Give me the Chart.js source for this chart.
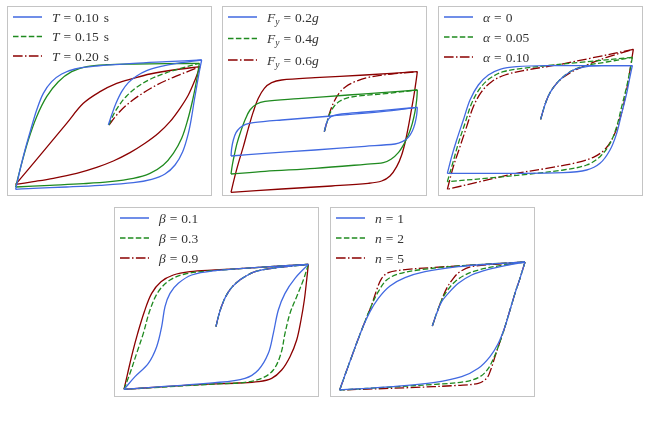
<!DOCTYPE html>
<html>
<head>
<meta charset="utf-8">
<script src="https://cdn.jsdelivr.net/npm/chart.js@4"></script>
<style>
  body { margin: 0; background: #fff; width: 650px; height: 421px; position: relative; overflow: hidden; }
  .panel { position: absolute; box-sizing: border-box; width: 205px; height: 190px; border: 1px solid #c4c4c4; }
  .panel canvas { display: block; }
</style>
</head>
<body>
<div class="panel" style="left:7px;top:6px"><canvas id="pT" width="203" height="188"></canvas></div>
<div class="panel" style="left:222px;top:6px"><canvas id="pF" width="203" height="188"></canvas></div>
<div class="panel" style="left:438px;top:6px"><canvas id="pA" width="203" height="188"></canvas></div>
<div class="panel" style="left:114px;top:207px"><canvas id="pB" width="203" height="188"></canvas></div>
<div class="panel" style="left:330px;top:207px"><canvas id="pN" width="203" height="188"></canvas></div>
<script>
// hysteresis loops: [displacement, restoring force] (arbitrary units)
// curves: Init = first loading from rest, Down = unloading branch, Up = reloading branch

// panel 1: period T
const periodLabels = ['0.10', '0.15', '0.20'];
const T010Init = [[-2,0],[8,30],[21,65],[38,100],[58,127],[83,147],[113,163],[153,175],[203,185],[278,195]];
const T010Down = [[278,195],[271,160],[263,115],[256,75],[248,25],[238,-25],[221,-80],[198,-120],[168,-147],[128,-163],[73,-173],[-27,-181],[-127,-186],[-227,-190],[-280,-193]];
const T010Up = [[-280,-193],[-267,-135],[-252,-75],[-235,-15],[-217,45],[-197,95],[-172,130],[-142,153],[-102,168],[-37,177],[73,185],[173,190],[278,195]];
const T015Init = [[0,0],[13,30],[31,60],[53,87],[83,113],[123,137],[173,157],[223,172],[271,185]];
const T015Down = [[271,185],[263,135],[251,75],[236,15],[218,-40],[193,-85],[163,-120],[123,-145],[73,-160],[3,-170],[-77,-176],[-177,-181],[-280,-186]];
const T015Up = [[-280,-186],[-262,-115],[-242,-45],[-217,25],[-187,85],[-152,130],[-112,160],[-67,175],[-7,181],[73,183],[173,184],[271,185]];
const T020Init = [[0,0],[23,30],[53,60],[93,90],[143,120],[193,143],[243,163],[273,175]];
const T020Down = [[273,175],[258,135],[238,90],[213,50],[183,10],[148,-25],[108,-55],[63,-83],[13,-108],[-37,-127],[-97,-145],[-167,-160],[-227,-170],[-280,-178]];
const T020Up = [[-280,-178],[-227,-115],[-177,-55],[-127,5],[-77,65],[-27,100],[23,125],[73,140],[123,153],[193,165],[273,175]];

// panel 2: yield strength Fy
const yieldLabels = ['0.2', '0.4', '0.6'];
const Fy02Init = [[0,0],[4,17],[9,32],[16,42],[27,48],[52,53],[122,59],[202,66],[279,73]];
const Fy02Down = [[279,73],[277,50],[272,25],[264,2],[252,-17],[234,-30],[212,-37],[122,-44],[-28,-55],[-178,-65],[-280,-73]];
const Fy02Up = [[-280,-73],[-278,-50],[-273,-25],[-265,-3],[-253,12],[-236,22],[-213,27],[-128,35],[22,47],[172,60],[279,73]];
const Fy04Init = [[0,0],[7,25],[17,55],[30,77],[47,92],[72,102],[112,108],[192,115],[279,125]];
const Fy04Down = [[279,125],[277,95],[272,60],[264,25],[254,-5],[240,-35],[222,-63],[200,-83],[177,-93],[122,-98],[-28,-110],[-178,-119],[-280,-127]];
const Fy04Up = [[-280,-127],[-276,-100],[-270,-70],[-262,-35],[-251,0],[-238,35],[-223,65],[-203,83],[-178,91],[-78,99],[72,110],[172,117],[279,125]];
const Fy06Init = [[0,0],[8,30],[17,60],[29,90],[44,115],[64,135],[92,150],[132,163],[202,173],[279,180]];
const Fy06Down = [[279,180],[275,150],[269,110],[262,70],[254,25],[244,-25],[232,-70],[217,-105],[197,-133],[172,-148],[132,-155],[22,-163],[-128,-172],[-280,-182]];
const Fy06Up = [[-280,-182],[-270,-140],[-258,-95],[-243,-45],[-228,10],[-213,60],[-198,100],[-180,130],[-158,147],[-128,155],[-28,162],[122,170],[279,180]];

// panel 3: post-yield stiffness ratio alpha
const alphaLabels = ['0', '0.05', '0.10'];
const A000Init = [[2,0],[10,28],[20,58],[32,83],[50,108],[70,128],[100,148],[140,158],[190,161],[277,161]];
const A000Down = [[277,161],[270,128],[260,78],[245,18],[230,-42],[210,-92],[180,-132],[140,-152],[70,-160],[-100,-162],[-278,-162]];
const A000Up = [[-278,-162],[-265,-112],[-250,-62],[-230,-2],[-210,58],[-185,103],[-155,133],[-120,150],[-70,158],[20,161],[277,161]];
const A005Init = [[2,0],[10,28],[20,58],[32,83],[50,108],[70,128],[100,148],[140,162],[200,172],[277,186]];
const A005Down = [[277,186],[270,148],[260,98],[245,38],[230,-22],[210,-72],[180,-112],[140,-137],[70,-152],[-30,-164],[-130,-174],[-278,-187]];
const A005Up = [[-278,-187],[-262,-132],[-245,-72],[-225,-12],[-205,48],[-180,93],[-150,123],[-110,143],[-50,153],[20,161],[120,171],[277,186]];
const A010Init = [[2,0],[10,28],[20,58],[32,83],[50,108],[70,126],[100,145],[140,163],[200,186],[280,210]];
const A010Down = [[280,210],[274,173],[266,123],[255,63],[240,3],[220,-52],[195,-90],[160,-114],[110,-130],[20,-147],[-80,-164],[-180,-187],[-278,-210]];
const A010Up = [[-278,-210],[-260,-142],[-240,-82],[-220,-22],[-200,38],[-175,83],[-145,113],[-105,133],[-40,148],[50,163],[150,183],[280,210]];

// panel 4: beta
const betaLabels = ['0.1', '0.3', '0.9'];
const betaInit = [[0,0],[7,30],[17,62],[29,90],[45,115],[65,135],[87,150],[117,165],[167,175],[277,187]];
const B01Down = [[277,187],[237,145],[207,100],[187,50],[172,-20],[157,-80],[127,-130],[87,-155],[-3,-168],[-276,-188]];
const B01Up = [[-276,-188],[-243,-150],[-203,-110],[-178,-60],[-163,0],[-153,60],[-138,100],[-113,130],[-73,155],[-3,168],[117,177],[277,187]];
const B03Down = [[277,187],[262,140],[242,90],[222,40],[207,-20],[195,-80],[172,-130],[137,-155],[87,-167],[-3,-172],[-276,-188]];
const B03Up = [[-276,-188],[-258,-140],[-238,-80],[-218,-20],[-198,50],[-173,105],[-138,140],[-93,158],[-33,166],[117,177],[277,187]];
const B09Down = [[277,187],[272,140],[265,80],[255,20],[242,-40],[222,-90],[197,-130],[167,-155],[127,-165],[67,-169],[-33,-173],[-153,-180],[-276,-188]];
const B09Up = [[-276,-188],[-265,-140],[-251,-80],[-235,-20],[-215,45],[-193,100],[-165,135],[-128,155],[-78,165],[-3,170],[117,177],[277,187]];

// panel 5: exponent n
const nLabels = ['1', '2', '5'];
const N1Init = [[0,0],[13,38],[28,73],[48,98],[78,128],[118,153],[168,170],[228,183],[278,192]];
const N1Down = [[278,192],[263,143],[248,98],[233,48],[218,-2],[198,-52],[173,-92],[138,-127],[88,-152],[8,-169],[-122,-182],[-278,-192]];
const N1Up = [[-278,-192],[-242,-92],[-212,-12],[-187,43],[-162,83],[-127,120],[-82,145],[-22,163],[78,178],[178,186],[278,192]];
const N2Init = [[0,0],[13,38],[28,78],[46,108],[68,133],[98,153],[138,168],[208,182],[278,192]];
const N2Down = [[278,192],[263,143],[248,98],[233,48],[218,-2],[203,-47],[188,-87],[168,-127],[143,-152],[98,-167],[8,-175],[-122,-183],[-278,-192]];
const N2Up = [[-278,-192],[-242,-92],[-212,-12],[-182,63],[-162,103],[-137,138],[-102,156],[-42,168],[78,180],[278,192]];
const N5Init = [[0,0],[13,38],[28,78],[43,113],[63,143],[83,163],[118,178],[198,186],[278,192]];
const N5Down = [[278,192],[263,143],[248,98],[233,48],[218,-2],[203,-47],[188,-92],[175,-132],[163,-157],[138,-172],[78,-178],[-72,-185],[-278,-192]];
const N5Up = [[-278,-192],[-242,-92],[-212,-12],[-182,63],[-167,108],[-152,143],[-132,160],[-92,168],[8,176],[128,183],[278,192]];

const BLUE = '#4169e1';
const GREEN = '#1f8a1f';
const RED = '#8b0000';
const SOLID = [];
const DASHED = [5.5, 2.4];
const DASHDOT = [9.6, 2.4, 1.5, 2.4];
const STYLES = [[BLUE, SOLID], [GREEN, DASHED], [RED, DASHDOT]];

function branch(pts, color, dash) {
    return {
        data: pts.map(([x, y]) => ({ x, y })),
        borderColor: color,
        borderDash: dash,
        borderWidth: 1.3,
        showLine: true,
        pointRadius: 0,
        tension: 0.35,
        fill: false,
    };
}

// draws the legend with italic math symbols (matplotlib mathtext style)
function legendPlugin(entries, gap) {
    return {
        id: 'mathLegend',
        afterDatasetsDraw(chart) {
            const ctx = chart.ctx;
            entries.forEach((parts, i) => {
                const [color, dash] = STYLES[i];
                const y = 10 + i * gap;
                ctx.save();
                ctx.strokeStyle = color;
                ctx.lineWidth = 1.5;
                ctx.setLineDash(dash);
                ctx.beginPath();
                ctx.moveTo(5, y);
                ctx.lineTo(34, y);
                ctx.stroke();
                ctx.setLineDash([]);
                ctx.fillStyle = '#333';
                let x = 44;
                parts.forEach(p => {
                    ctx.font = (p.it ? 'italic ' : '') + (p.sub ? '9.5px' : '13.5px') + ' "Liberation Serif"';
                    x += p.pad || 0;
                    ctx.fillText(p.t, x, y + 4.5 + (p.sub ? 3 : 0));
                    x += ctx.measureText(p.t).width;
                });
                ctx.restore();
            });
        }
    };
}

function makePanel(id, xr, yr, series, entries, gap) {
    const datasets = [];
    series.forEach((s, i) => {
        const [color, dash] = STYLES[i];
        const loopDash = s.dashLoop ? dash : SOLID;
        datasets.push(branch(s.down, color, loopDash));
        datasets.push(branch(s.up, color, loopDash));
        datasets.push(branch(s.init, color, dash));
    });
    new Chart(document.getElementById(id), {
        type: 'scatter',
        data: { datasets },
        options: {
            responsive: false,
            animation: false,
            layout: { padding: 0 },
            scales: {
                x: { type: 'linear', display: false, min: xr[0], max: xr[1] },
                y: { type: 'linear', display: false, min: yr[0], max: yr[1] },
            },
            plugins: { legend: { display: false }, tooltip: { enabled: false } },
        },
        plugins: [legendPlugin(entries, gap)],
    });
}

const eq = { t: '=', pad: 4 };

makePanel('pT', [-303, 306], [-210, 354], [
    { init: T010Init, down: T010Down, up: T010Up },
    { init: T015Init, down: T015Down, up: T015Up },
    { init: T020Init, down: T020Down, up: T020Up },
], periodLabels.map(v => [{ t: 'T', it: true }, eq, { t: v, pad: 4 }, { t: 's', pad: 5 }]), 19.5);

makePanel('pF', [-304, 305], [-190, 374], [
    { init: Fy02Init, down: Fy02Down, up: Fy02Up },
    { init: Fy04Init, down: Fy04Down, up: Fy04Up },
    { init: Fy06Init, down: Fy06Down, up: Fy06Up },
], yieldLabels.map(v => [{ t: 'F', it: true }, { t: 'y', it: true, sub: true }, eq, { t: v, pad: 4 }, { t: 'g', it: true }]), 21.5);

makePanel('pA', [-303, 306], [-227, 337], [
    { init: A000Init, down: A000Down, up: A000Up, dashLoop: true },
    { init: A005Init, down: A005Down, up: A005Up, dashLoop: true },
    { init: A010Init, down: A010Down, up: A010Up, dashLoop: true },
], alphaLabels.map(v => [{ t: 'α', it: true }, eq, { t: v, pad: 4 }]), 20);

makePanel('pB', [-303, 306], [-208, 356], [
    { init: betaInit, down: B01Down, up: B01Up },
    { init: betaInit, down: B03Down, up: B03Up, dashLoop: true },
    { init: betaInit, down: B09Down, up: B09Up },
], betaLabels.map(v => [{ t: 'β', it: true }, eq, { t: v, pad: 4 }]), 20);

makePanel('pN', [-304, 305], [-210, 354], [
    { init: N1Init, down: N1Down, up: N1Up, dashLoop: true },
    { init: N2Init, down: N2Down, up: N2Up, dashLoop: true },
    { init: N5Init, down: N5Down, up: N5Up, dashLoop: true },
], nLabels.map(v => [{ t: 'n', it: true }, eq, { t: v, pad: 4 }]), 20);
</script>
</body>
</html>
